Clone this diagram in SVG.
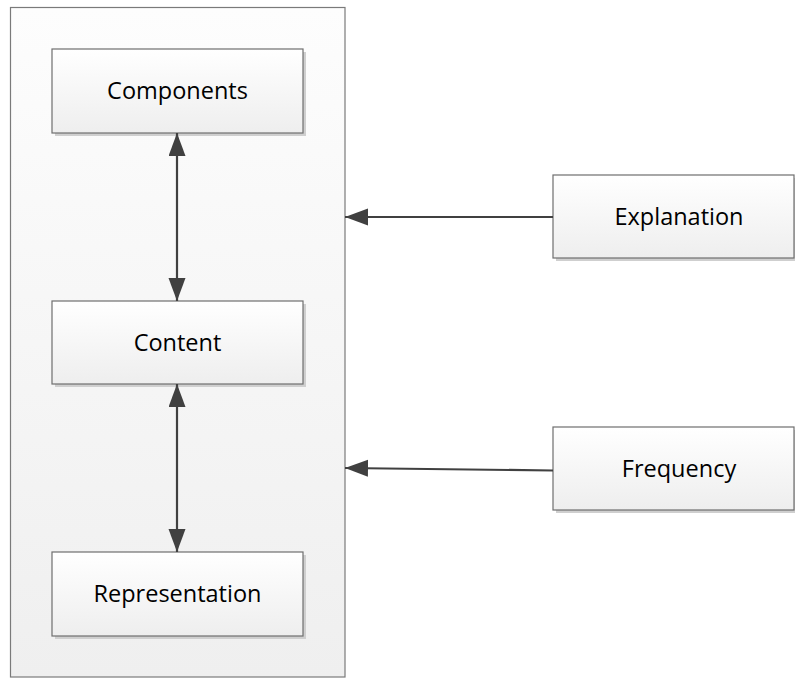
<svg xmlns="http://www.w3.org/2000/svg" width="795" height="678" viewBox="0 0 795 678">
<defs>
<linearGradient id="gc" x1="0" y1="0" x2="0" y2="1">
<stop offset="0" stop-color="#fdfdfd"/>
<stop offset="1" stop-color="#efefef"/>
</linearGradient>
<linearGradient id="gb" x1="0" y1="0" x2="0" y2="1">
<stop offset="0" stop-color="#ffffff"/>
<stop offset="1" stop-color="#eeeeee"/>
</linearGradient>
<marker id="ah" markerUnits="userSpaceOnUse" markerWidth="24" markerHeight="18" refX="23" refY="8.5" orient="auto-start-reverse">
<path d="M0,0 L23,8.5 L0,17 Z" fill="#404040"/>
</marker>
</defs>
<style>
.shadow{fill:#cfcfcf}
.box{fill:url(#gb);stroke:#6e6e6e;stroke-width:1.2}
.lbl{font-family:"Open Sans","Noto Sans",sans-serif;font-size:23.5px;fill:#000;text-anchor:middle}
.con{stroke:#404040;stroke-width:2.2;fill:none}
</style>
<rect width="795" height="678" fill="#ffffff"/>
<g id="container">
<rect x="10.5" y="7.5" width="334.5" height="669.5" fill="url(#gc)" stroke="#7a7a7a" stroke-width="1.2"/>
</g>
<g id="components">
<rect class="shadow" x="55" y="52" width="251" height="84"/>
<rect class="box" x="52" y="49" width="251" height="84"/>
<text class="lbl" x="177.5" y="99">Components</text>
</g>
<g id="content">
<rect class="shadow" x="55" y="304" width="251" height="83"/>
<rect class="box" x="52" y="301" width="251" height="83"/>
<text class="lbl" x="177.5" y="351">Content</text>
</g>
<g id="representation">
<rect class="shadow" x="55" y="555" width="251" height="84"/>
<rect class="box" x="52" y="552" width="251" height="84"/>
<text class="lbl" x="177.5" y="602">Representation</text>
</g>
<g id="explanation">
<rect class="shadow" x="556" y="178" width="245" height="83"/>
<rect class="box" x="553" y="175" width="241" height="83"/>
<text class="lbl" x="679" y="225">Explanation</text>
</g>
<g id="frequency">
<rect class="shadow" x="556" y="430" width="245" height="83"/>
<rect class="box" x="553" y="427" width="241" height="83"/>
<text class="lbl" x="679" y="477">Frequency</text>
</g>
<g id="connectors">
<line class="con" x1="177" y1="133" x2="177" y2="301" marker-start="url(#ah)" marker-end="url(#ah)"/>
<line class="con" x1="177" y1="384" x2="177" y2="552" marker-start="url(#ah)" marker-end="url(#ah)"/>
<line class="con" x1="553" y1="217" x2="345" y2="217" marker-end="url(#ah)"/>
<line class="con" x1="553" y1="470.5" x2="345" y2="468" marker-end="url(#ah)"/>
</g>
</svg>
